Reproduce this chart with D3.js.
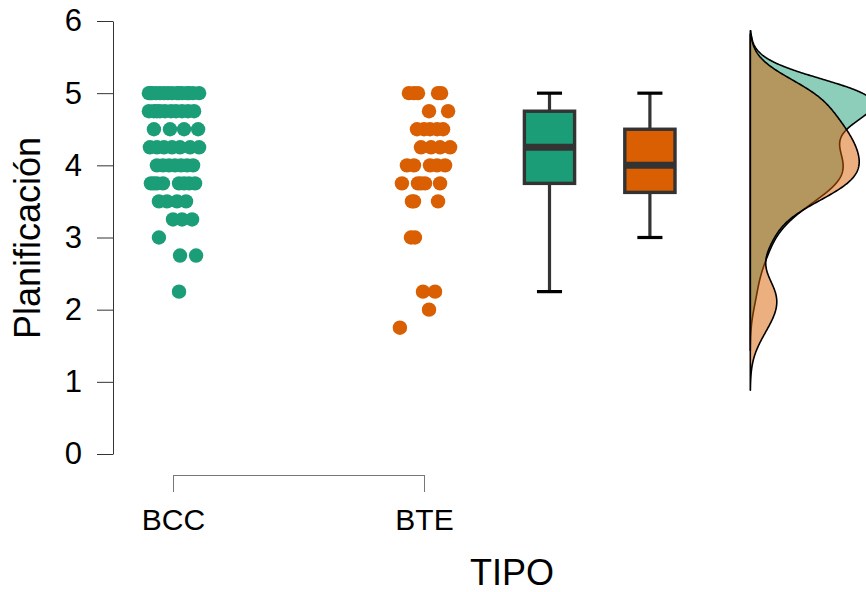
<!DOCTYPE html>
<html><head><meta charset="utf-8">
<script src="https://cdn.jsdelivr.net/npm/d3@7"></script>
<style>body{margin:0;background:#fff}svg{display:block;font-family:"Liberation Sans",Arial,sans-serif}</style>
</head><body><svg id="chart" width="866" height="592"></svg>
<script>
// ---- data ----
const categories = ["BCC", "BTE"];
const yTicks = [0, 1, 2, 3, 4, 5, 6];
const colors = ["#1b9e77", "#d95f02"];
const xTitle = "TIPO";
const yTitle = "Planificación";

const bccValues = [
  5,5,5,5,5,5,5,5,5,5,5,5,5,5,5,
  4.75,4.75,4.75,4.75,4.75,4.75,4.75,4.75,4.75,4.75,
  4.5,4.5,4.5,4.5,
  4.25,4.25,4.25,4.25,4.25,4.25,4.25,
  4,4,4,4,4,4,4,
  3.75,3.75,3.75,3.75,3.75,3.75,3.75,3.75,
  3.5,3.5,3.5,3.5,
  3.25,3.25,3.25,
  3,
  2.75,2.75,
  2.25];
const bccJitter = [
  -0.096,-0.090,-0.084,-0.068,-0.052,-0.036,-0.020,-0.004,0.016,0.024,0.036,0.056,0.064,0.080,0.104,
  -0.096,-0.076,-0.064,-0.052,-0.032,-0.008,0.012,0.036,0.060,0.084,
  -0.076,-0.012,0.044,0.100,
  -0.092,-0.064,-0.036,-0.004,0.028,0.068,0.104,
  -0.064,-0.040,-0.016,0.008,0.032,0.056,0.080,
  -0.088,-0.076,-0.064,-0.040,0.024,0.044,0.064,0.088,
  -0.056,-0.024,0.016,0.052,
  0,0.036,0.076,
  -0.056,
  0.028,0.092,
  0.024];

const bteValues = [
  5,5,5,5,5,
  4.75,4.75,
  4.5,4.5,4.5,4.5,4.5,
  4.25,4.25,4.25,4.25,
  4,4,4,4,4,
  3.75,3.75,3.75,3.75,3.75,
  3.5,3.5,3.5,
  3,3,
  2.25,2.25,
  2,
  1.75];
const bteJitter = [
  -0.060,-0.040,-0.024,0.056,0.068,
  0.020,0.096,
  -0.028,0,0.024,0.052,0.076,
  -0.012,0.028,0.064,0.104,
  -0.068,-0.040,0.024,0.052,0.084,
  -0.088,-0.024,-0.012,0.004,0.064,
  -0.048,-0.040,0.056,
  -0.052,-0.036,
  -0.004,0.044,
  0.020,
  -0.096];

const groups = [
  {name: categories[0], values: bccValues, jitter: bccJitter, color: colors[0]},
  {name: categories[1], values: bteValues, jitter: bteJitter, color: colors[1]}
];

// ---- layout ----
const boxPos = [1.5, 1.9];
const densityPos = 2.3;
const svg = d3.select("#chart");
const y = d3.scaleLinear().domain([0, 6]).range([454, 21]);
const x = d3.scaleLinear().domain([0, 1]).range([173, 424]);

// y axis
const gy = svg.append("g").attr("transform", "translate(113,0)")
  .call(d3.axisLeft(y).tickValues(yTicks).tickFormat(d3.format("d"))
    .tickSizeInner(16).tickSizeOuter(0).tickPadding(15));
gy.selectAll("path,line").attr("stroke", "#333").attr("stroke-width", 1);
gy.selectAll("text").attr("font-size", 31).attr("fill", "#000").attr("font-family", "Liberation Sans, Arial, sans-serif");

// x axis (range frame)
const gx = svg.append("g").attr("transform", "translate(0,475)")
  .call(d3.axisBottom(x).tickValues([0, 1]).tickFormat(i => categories[i]).tickSizeInner(17).tickSizeOuter(0).tickPadding(17));
gx.selectAll("path,line").attr("stroke", "#777").attr("stroke-width", 1);
gx.selectAll("text").attr("font-size", 30).attr("fill", "#000").attr("font-family", "Liberation Sans, Arial, sans-serif");

// titles
svg.append("text").attr("x", 512).attr("y", 585).attr("text-anchor", "middle")
  .attr("font-size", 36).text(xTitle);
svg.append("text").attr("transform", "translate(40,238) rotate(-90)").attr("text-anchor", "middle")
  .attr("font-size", 36).text(yTitle);

// points
groups.forEach((g, gi) => {
  svg.append("g").selectAll("circle").data(g.values).join("circle")
    .attr("cx", (v, i) => x(gi + g.jitter[i]))
    .attr("cy", v => y(v))
    .attr("r", 7.2)
    .attr("fill", g.color);
});

// boxplots
groups.forEach((g, gi) => {
  const s = g.values.slice().sort(d3.ascending);
  const q1 = d3.quantile(s, 0.25), med = d3.quantile(s, 0.5), q3 = d3.quantile(s, 0.75);
  const iqr = q3 - q1;
  const lo = d3.min(s.filter(v => v >= q1 - 1.5 * iqr));
  const hi = d3.max(s.filter(v => v <= q3 + 1.5 * iqr));
  const p = boxPos[gi];
  const bg = svg.append("g");
  bg.append("line").attr("x1", x(p)).attr("x2", x(p)).attr("y1", y(hi)).attr("y2", y(q3))
    .attr("stroke", "#333").attr("stroke-width", 3.2);
  bg.append("line").attr("x1", x(p)).attr("x2", x(p)).attr("y1", y(q1)).attr("y2", y(lo))
    .attr("stroke", "#333").attr("stroke-width", 3.2);
  [hi, lo].forEach(v => bg.append("line").attr("x1", x(p - 0.05)).attr("x2", x(p + 0.05))
    .attr("y1", y(v)).attr("y2", y(v)).attr("stroke", "#000").attr("stroke-width", 3.2));
  bg.append("rect").attr("x", x(p - 0.1)).attr("width", x(p + 0.1) - x(p - 0.1))
    .attr("y", y(q3)).attr("height", y(q1) - y(q3))
    .attr("fill", g.color).attr("stroke", "#333").attr("stroke-width", 3.4);
  bg.append("line").attr("x1", x(p - 0.1)).attr("x2", x(p + 0.1)).attr("y1", y(med)).attr("y2", y(med))
    .attr("stroke", "#333").attr("stroke-width", 7);
});

// densities (gaussian KDE, bw.nrd0)
function kde(vals) {
  const s = vals.slice().sort(d3.ascending);
  const n = s.length;
  const sd = d3.deviation(s);
  const iqr = d3.quantile(s, 0.75) - d3.quantile(s, 0.25);
  const bw = 0.9 * Math.min(sd, iqr / 1.34) * Math.pow(n, -0.2);
  const lo = s[0] - 3 * bw, hi = s[n - 1] + 3 * bw;
  return d3.range(0, 513).map(k => {
    const t = lo + (hi - lo) * k / 512;
    const d = d3.sum(s, v => Math.exp(-0.5 * ((t - v) / bw) ** 2)) / (n * bw * Math.sqrt(2 * Math.PI));
    return {v: t, d: d};
  });
}
const dens = groups.map(g => kde(g.values));
const dMax = d3.max(dens, p => d3.max(p, q => q.d));
const w = d3.scaleLinear().domain([0, dMax]).range([0, 123]);
const base = x(densityPos);
const area = d3.area().y(p => y(p.v)).x0(base).x1(p => base + w(p.d));
dens.forEach((p, gi) => {
  svg.append("path").datum(p).attr("d", d => area(d) + "Z")
    .attr("fill", groups[gi].color).attr("fill-opacity", 0.5)
    .attr("stroke", "#000").attr("stroke-width", 1.6).attr("stroke-linejoin", "round");
});
</script></body></html>
